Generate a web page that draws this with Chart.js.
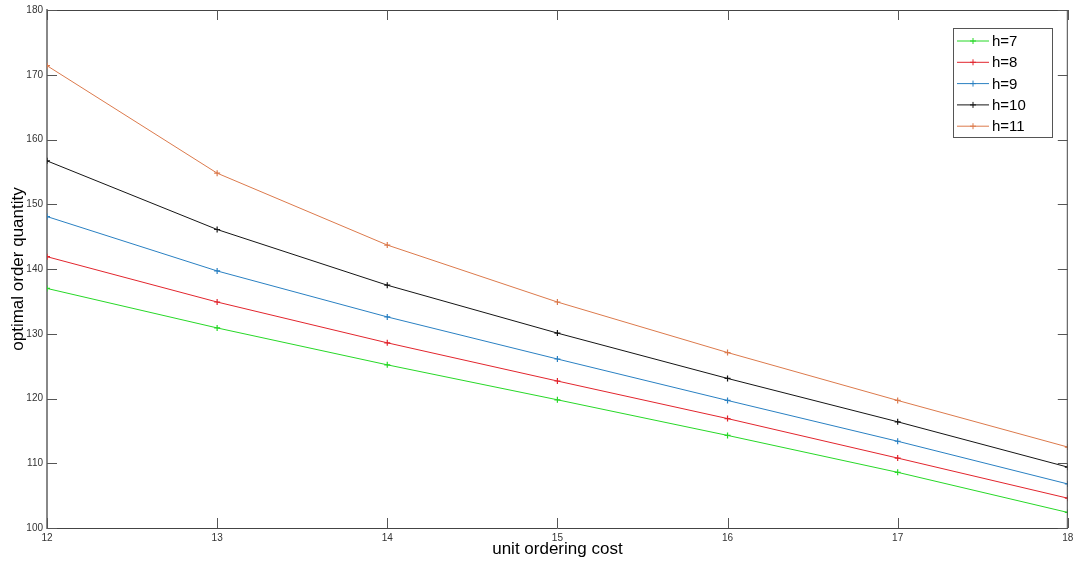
<!DOCTYPE html>
<html>
<head>
<meta charset="utf-8">
<title>optimal order quantity</title>
<script src="https://cdn.jsdelivr.net/npm/chart.js@4/dist/chart.umd.min.js"></script>
<style>
  body { margin: 0; background: #fff; }
  #wrap { width: 1073px; height: 563px; }
</style>
</head>
<body>
<div id="wrap"><canvas id="qChart" width="1073" height="563"></canvas></div>
<script>
// data
const unitCost = [12, 13, 14, 15, 16, 17, 18];
const h7  = [137.0, 130.9, 125.2, 119.8, 114.3, 108.6, 102.4];
const h8  = [141.9, 134.9, 128.6, 122.7, 116.9, 110.8, 104.6];
const h9  = [148.1, 139.7, 132.6, 126.1, 119.7, 113.4, 106.8];
const h10 = [156.7, 146.1, 137.5, 130.1, 123.1, 116.4, 109.4];
const h11 = [171.4, 154.8, 143.7, 134.9, 127.1, 119.7, 112.5];
const seriesNames = ['h=7', 'h=8', 'h=9', 'h=10', 'h=11'];
const seriesColors = ['#27d827', '#e2252d', '#2a80c2', '#151515', '#dc7a4c'];

const toPoints = (vals) => vals.map((v, i) => ({ x: unitCost[i], y: v }));

const datasets = [h7, h8, h9, h10, h11].map((vals, i) => ({
    label: seriesNames[i],
    data: toPoints(vals),
    borderColor: seriesColors[i],
    backgroundColor: seriesColors[i],
    borderWidth: 1,
    pointStyle: 'cross',
    pointRadius: 3,
    pointBorderWidth: 1.2,
    tension: 0
}));

// matlab style box: top/right edges and inward ticks
const boxPlugin = {
    id: 'matlabBox',
    afterDraw(chart) {
        const ctx = chart.ctx;
        const a = chart.chartArea;
        const xs = chart.scales.x, ys = chart.scales.y;
        ctx.save();
        ctx.strokeStyle = '#444';
        ctx.lineWidth = 1;
        ctx.beginPath();
        ctx.moveTo(a.left, a.top + 0.5);
        ctx.lineTo(a.right, a.top + 0.5);
        ctx.moveTo(a.right - 0.5, a.top);
        ctx.lineTo(a.right - 0.5, a.bottom);
        ctx.stroke();

        const len = 10;
        ctx.strokeStyle = '#555';
        ctx.beginPath();
        ys.ticks.forEach(t => {
            const y = Math.round(ys.getPixelForValue(t.value)) + 0.5;
            ctx.moveTo(a.left, y); ctx.lineTo(a.left + len, y);
            ctx.moveTo(a.right, y); ctx.lineTo(a.right - len, y);
        });
        xs.ticks.forEach(t => {
            const x = Math.round(xs.getPixelForValue(t.value)) + 0.5;
            ctx.moveTo(x, a.bottom); ctx.lineTo(x, a.bottom - len);
            ctx.moveTo(x, a.top); ctx.lineTo(x, a.top + len);
        });
        ctx.stroke();

        // legend box
        const lx = 953, ly = 28, lw = 99, lh = 109;
        ctx.fillStyle = '#fff';
        ctx.fillRect(lx, ly, lw, lh);
        ctx.strokeStyle = '#555';
        ctx.strokeRect(lx + 0.5, ly + 0.5, lw, lh);
        ctx.font = '15px "Liberation Sans", Arial, sans-serif';
        ctx.textBaseline = 'middle';
        chart.data.datasets.forEach((ds, i) => {
            const y = ly + 13 + i * 21.3;
            ctx.strokeStyle = ds.borderColor;
            ctx.lineWidth = 1;
            ctx.beginPath();
            ctx.moveTo(lx + 4, y); ctx.lineTo(lx + 36, y);
            ctx.moveTo(lx + 20, y - 3); ctx.lineTo(lx + 20, y + 3);
            ctx.moveTo(lx + 17, y); ctx.lineTo(lx + 23, y);
            ctx.stroke();
            ctx.fillStyle = '#000';
            ctx.fillText(ds.label, lx + 39, y + 1);
        });
        ctx.restore();
    }
};

const tickFont = { family: '"Liberation Sans", Arial, sans-serif', size: 10 };
const titleFont = { family: '"Liberation Sans", Arial, sans-serif', size: 17 };

new Chart(document.getElementById('qChart').getContext('2d'), {
    type: 'line',
    data: { datasets: datasets },
    options: {
        responsive: false,
        animation: false,
        layout: { padding: { top: 10, right: 3, left: 0, bottom: 0 } },
        plugins: {
            legend: { display: false },
            tooltip: { enabled: false }
        },
        scales: {
            x: {
                type: 'linear',
                min: 12,
                max: 18,
                ticks: { stepSize: 1, color: '#333', font: tickFont, padding: 4, maxRotation: 0 },
                grid: { display: false, drawTicks: false },
                border: { display: true, color: '#444', width: 1 },
                title: { display: true, text: 'unit ordering cost', color: '#000', font: titleFont, padding: { top: 0, bottom: 3 } },
                afterFit(scale) {
                    scale.height = 35;
                    scale.paddingLeft = 0;
                    scale.paddingRight = 0;
                }
            },
            y: {
                min: 100,
                max: 180,
                ticks: { stepSize: 10, color: '#333', font: tickFont, padding: 4 },
                grid: { display: false, drawTicks: false },
                border: { display: true, color: '#888', width: 2 },
                title: { display: true, text: 'optimal order quantity', color: '#000', font: titleFont, padding: { top: 8, bottom: 0 } },
                afterFit(scale) {
                    scale.width = 47;
                    scale.paddingTop = 0;
                    scale.paddingBottom = 0;
                }
            }
        }
    },
    plugins: [boxPlugin]
});
</script>
</body>
</html>
